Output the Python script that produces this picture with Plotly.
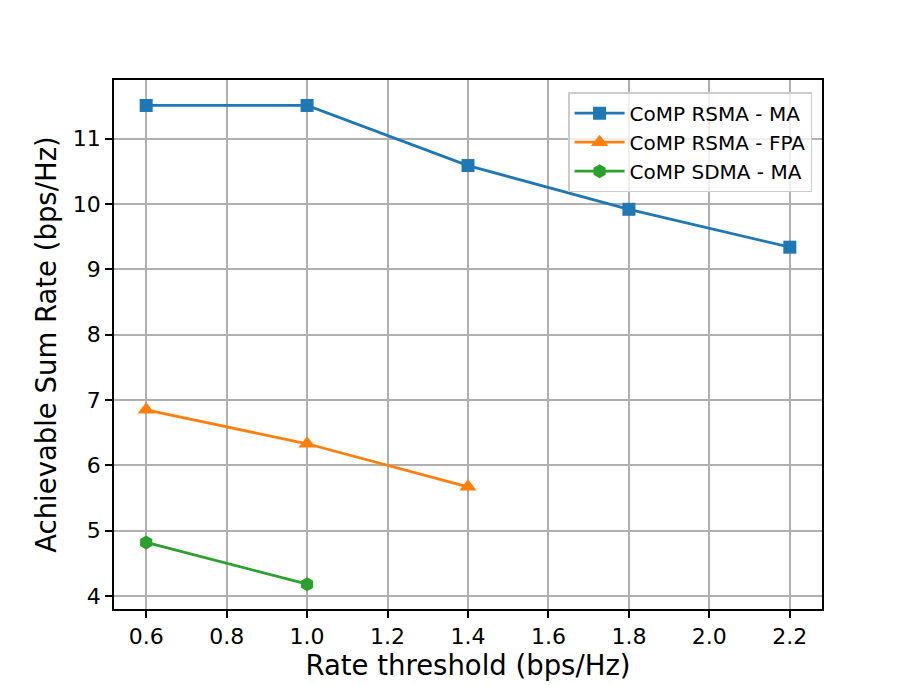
import plotly.graph_objects as go

x_rsma_ma = [0.6, 1.0, 1.4, 1.8, 2.2]
y_rsma_ma = [11.51, 11.51, 10.59, 9.92, 9.34]
x_rsma_fpa = [0.6, 1.0, 1.4]
y_rsma_fpa = [6.85, 6.33, 5.67]
x_sdma_ma = [0.6, 1.0]
y_sdma_ma = [4.82, 4.18]

x_ticks = [0.6, 0.8, 1.0, 1.2, 1.4, 1.6, 1.8, 2.0, 2.2]
y_ticks = [4, 5, 6, 7, 8, 9, 10, 11]

fig = go.Figure()
series = [
    ("CoMP RSMA - MA", x_rsma_ma, y_rsma_ma, "#1f77b4", "square", 13),
    ("CoMP RSMA - FPA", x_rsma_fpa, y_rsma_fpa, "#ff7f0e", "triangle-up", 15),
    ("CoMP SDMA - MA", x_sdma_ma, y_sdma_ma, "#2ca02c", "hexagon", 14),
]
for name, xs, ys, c, sym, sz in series:
    fig.add_trace(go.Scatter(
        x=xs, y=ys, name=name, mode="lines+markers",
        line=dict(color=c, width=2.8),
        marker=dict(symbol=sym, size=sz, color=c, line=dict(width=0)),
    ))

axis_common = dict(
    showline=True, linecolor="black", linewidth=1.5, mirror=True,
    showgrid=True, gridcolor="#b0b0b0", gridwidth=1.5,
    ticks="outside", ticklen=7, tickwidth=1.5, tickcolor="black",
    zeroline=False, tickfont=dict(size=22, color="black"),
)

fig.update_layout(
    width=913, height=685,
    margin=dict(l=106, r=99, t=72, b=84),
    plot_bgcolor="white", paper_bgcolor="white",
    font=dict(family="DejaVu Sans", color="black"),
    xaxis=dict(range=[0.52, 2.28], tickvals=x_ticks,
               ticktext=[f"{v:.1f}" for v in x_ticks],
               title=dict(text="Rate threshold (bps/Hz)", font=dict(size=27.5), standoff=6),
               **axis_common),
    yaxis=dict(range=[3.8, 11.9], tickvals=y_ticks,
               ticktext=[str(v) for v in y_ticks],
               title=dict(text="Achievable Sum Rate (bps/Hz)", font=dict(size=27.5), standoff=8),
               **axis_common),
    legend=dict(x=0.986, y=0.977, xanchor="right", yanchor="top",
                bgcolor="rgba(255,255,255,0.8)", bordercolor="#cccccc", borderwidth=1.5,
                font=dict(size=20), tracegroupgap=0, itemwidth=50),
    showlegend=True,
)

fig.write_html("out.html")
